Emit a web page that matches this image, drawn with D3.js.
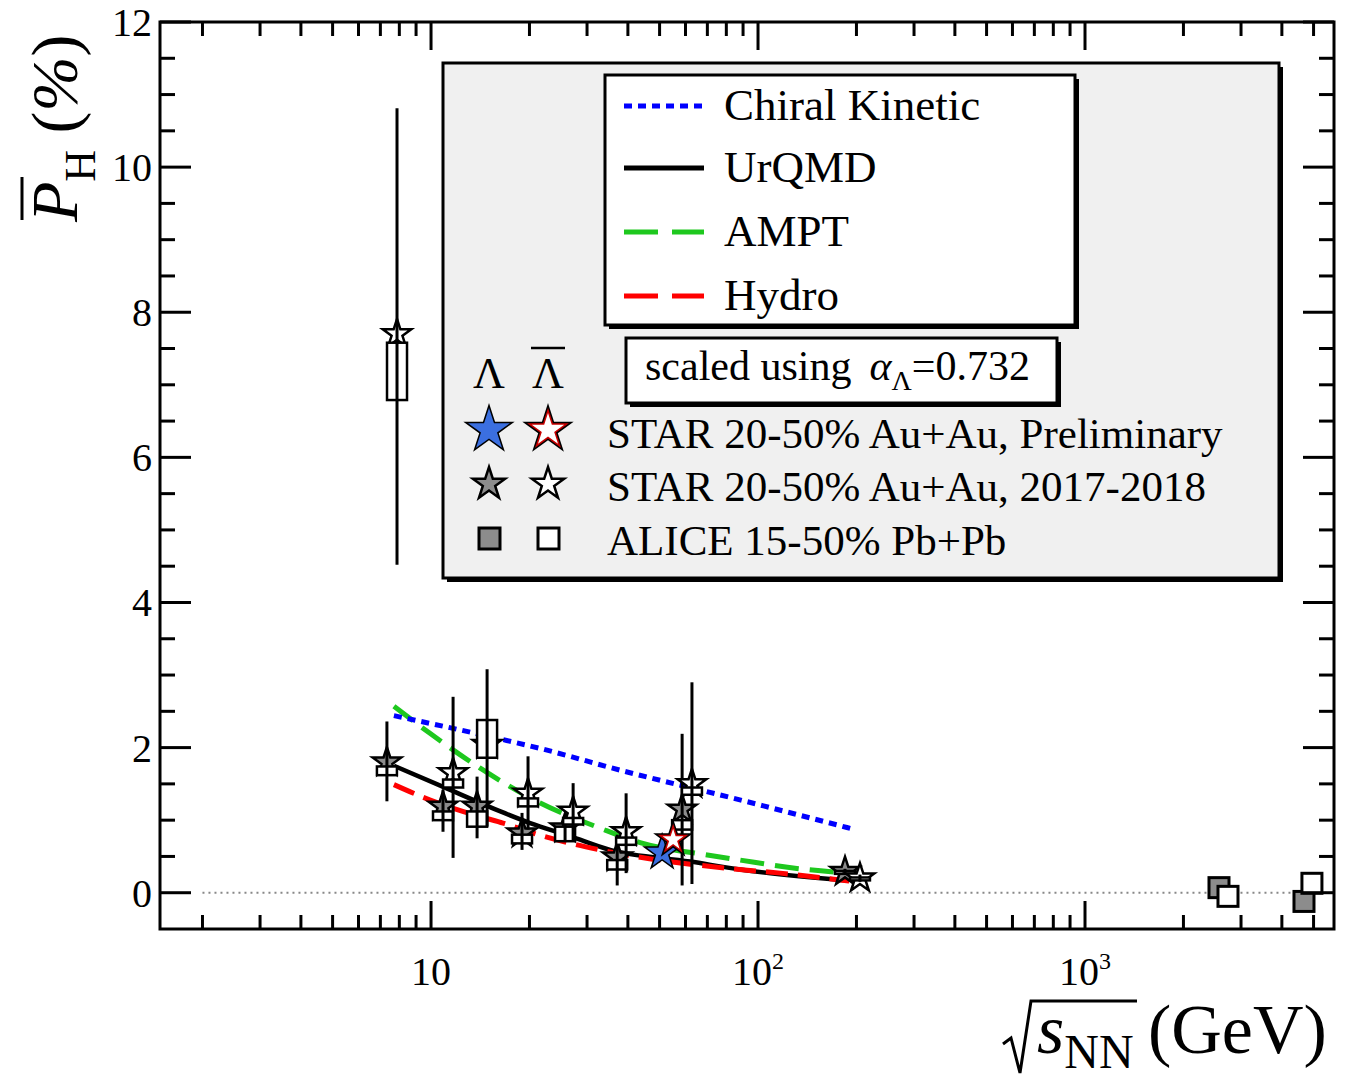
<!DOCTYPE html>
<html>
<head>
<meta charset="utf-8">
<script src="https://cdn.jsdelivr.net/npm/d3@7"></script>
<style>
	body { margin: 0; background: #fff; }
	text { font-family: "Liberation Serif", "Times New Roman", serif; fill: #000; }
</style>
</head>
<body>
<div id="chart"></div>
<script>
// ---- data ----
// STAR 2017-2018, Lambda (filled grey stars)
const lamE = [7.33, 10.88, 13.83, 18.98, 25.7, 37.1, 58.6, 184.5]
const lamP = [1.80, 1.19, 1.19, 0.82, 0.89, 0.49, 1.15, 0.29]
const lamStatLo = [1.26, 0.84, 0.75, 0.59, 0.72, 0.10, 0.10, 0.25]
const lamStatHi = [2.36, 1.42, 1.60, 1.10, 1.02, 0.80, 2.19, 0.33]
const lamSysLo = [1.62, 1.00, 0.91, 0.68, 0.71, 0.32, 0.87, 0.26]
const lamSysHi = [1.74, 1.12, 1.12, 0.80, 0.91, 0.45, 1.00, 0.30]

// STAR 2017-2018, anti-Lambda (open stars)
const alamE = [7.87, 11.68, 14.84, 19.8, 27.2, 39.5, 62.8, 205]
const alamP = [7.70, 1.65, 2.04, 1.37, 1.12, 0.84, 1.50, 0.20]
const alamStatLo = [4.52, 0.48, 0.91, 0.87, 0.71, 0.27, 0.12, 0.15]
const alamStatHi = [10.81, 2.70, 3.08, 1.88, 1.51, 1.37, 2.90, 0.25]
const alamSysLo = [6.79, 1.45, 1.86, 1.19, 0.94, 0.66, 1.35, 0.17]
const alamSysHi = [7.58, 1.56, 2.38, 1.30, 1.03, 0.76, 1.45, 0.21]

// STAR preliminary (54.4 GeV)
const prelimE = [50.9, 55.0]
const prelimP = [0.55, 0.73]
const prelimType = ['lam', 'alam']

// ALICE
const aliceLamE = [2569, 4674]
const aliceLamP = [0.07, -0.12]
const aliceAlamE = [2737, 4943]
const aliceAlamP = [-0.05, 0.13]

// model curves
const chiralE = [7.7, 16.6, 21.5, 37.8, 88, 198]
const chiralP = [2.44, 2.11, 1.99, 1.69, 1.28, 0.87]
const urqmdE = [7.7, 11.4, 16.3, 20.1, 26.6, 35.3, 62, 88, 185]
const urqmdP = [1.75, 1.42, 1.12, 0.96, 0.78, 0.59, 0.43, 0.32, 0.17]
const amptE = [7.7, 9.9, 14.1, 21.5, 32.9, 43.6, 70, 88, 134, 190]
const amptP = [2.57, 2.20, 1.72, 1.24, 0.89, 0.69, 0.52, 0.45, 0.33, 0.27]
const hydroE = [7.7, 9.9, 14.1, 16.6, 22, 32.9, 88, 117, 190]
const hydroP = [1.49, 1.28, 1.05, 0.96, 0.78, 0.59, 0.32, 0.27, 0.16]

const yTicks = [0, 2, 4, 6, 8, 10, 12]
const xMajor = [10, 100, 1000]
const xLabels = [['10', ''], ['10', '2'], ['10', '3']]

const width = 1345
const height = 1078
const plot = { left: 160, right: 1334, top: 22, bottom: 929 }

const svg = d3.select('#chart').append('svg')
	.attr('width', width)
	.attr('height', height)

const x = d3.scaleLog().domain([1.483, 5774]).range([plot.left, plot.right])
const y = d3.scaleLinear().domain([-0.5, 12]).range([plot.bottom, plot.top])

// dotted zero line
svg.append('line')
	.attr('x1', x(2)).attr('x2', plot.right)
	.attr('y1', y(0)).attr('y2', y(0))
	.attr('stroke', '#888').attr('stroke-width', 2)
	.attr('stroke-dasharray', '2,4')

// ---- model curves ----
const line = d3.line()
	.x(d => x(d[0]))
	.y(d => y(d[1]))
	.curve(d3.curveMonotoneX)

const models = [
	{ E: amptE, P: amptP, color: '#1ec81e', dash: '24,11', w: 5 },
	{ E: urqmdE, P: urqmdP, color: '#000', dash: null, w: 4.5 },
	{ E: hydroE, P: hydroP, color: '#f00', dash: '22,10', w: 5 },
	{ E: chiralE, P: chiralP, color: '#00f', dash: '8,6', w: 5 }
]
models.forEach(m => {
	svg.append('path')
		.attr('d', line(d3.zip(m.E, m.P)))
		.attr('fill', 'none')
		.attr('stroke', m.color)
		.attr('stroke-width', m.w)
		.attr('stroke-dasharray', m.dash)
})

// ---- data points ----
const star = r => d3.symbol().type(d3.symbolStar).size(r * r / 0.8908130915292852)()

function drawSeries(E, P, lo, hi, sLo, sHi, fill) {
	const g = svg.append('g')
	const pts = E.map((e, i) => ({ e, p: P[i], lo: lo[i], hi: hi[i], sLo: sLo[i], sHi: sHi[i] }))
	g.selectAll('path.star').data(pts).enter().append('path')
		.attr('class', 'star')
		.attr('d', star(15))
		.attr('transform', d => `translate(${x(d.e)},${y(d.p)})`)
		.attr('fill', fill)
		.attr('stroke', '#000')
		.attr('stroke-width', 2.5)
	g.selectAll('rect').data(pts).enter().append('rect')
		.attr('x', d => x(d.e) - 10)
		.attr('y', d => y(d.sHi))
		.attr('width', 20)
		.attr('height', d => y(d.sLo) - y(d.sHi))
		.attr('fill', '#fff')
		.attr('stroke', '#000')
		.attr('stroke-width', 2.5)
	g.selectAll('line').data(pts).enter().append('line')
		.attr('x1', d => x(d.e)).attr('x2', d => x(d.e))
		.attr('y1', d => y(d.hi)).attr('y2', d => y(d.lo))
		.attr('stroke', '#000')
		.attr('stroke-width', 3)
}
drawSeries(lamE, lamP, lamStatLo, lamStatHi, lamSysLo, lamSysHi, '#8c8c8c')
drawSeries(alamE, alamP, alamStatLo, alamStatHi, alamSysLo, alamSysHi, '#fff')

// preliminary big stars
function bigStar(g, type, r) {
	g.append('path').attr('d', star(r)).attr('fill', '#000')
	if (type == 'lam') {
		g.append('path').attr('d', star(r - 5)).attr('fill', '#3b6fe0')
	} else {
		g.append('path').attr('d', star(r - 5)).attr('fill', '#c80000')
		g.append('path').attr('d', star(r - 10)).attr('fill', '#fff')
	}
}
prelimE.forEach((e, i) => {
	const g = svg.append('g').attr('transform', `translate(${x(e)},${y(prelimP[i])})`)
	bigStar(g, prelimType[i], 21)
})

// ALICE squares
function squares(E, P, fill) {
	svg.append('g').selectAll('rect').data(d3.zip(E, P)).enter().append('rect')
		.attr('x', d => x(d[0]) - 10)
		.attr('y', d => y(d[1]) - 10)
		.attr('width', 20).attr('height', 20)
		.attr('fill', fill)
		.attr('stroke', '#000')
		.attr('stroke-width', 3)
}
squares(aliceLamE, aliceLamP, '#8c8c8c')
squares(aliceAlamE, aliceAlamP, '#fff')

// ---- frame and ticks ----
svg.append('rect')
	.attr('x', plot.left).attr('y', plot.top)
	.attr('width', plot.right - plot.left).attr('height', plot.bottom - plot.top)
	.attr('fill', 'none').attr('stroke', '#000').attr('stroke-width', 3)

const yMinor = d3.range(0, 12.01, 0.5)
const ticks = svg.append('g').attr('stroke', '#000').attr('stroke-width', 3)
yMinor.forEach(v => {
	const len = v % 2 == 0 ? 31 : 15
	ticks.append('line').attr('x1', plot.left).attr('x2', plot.left + len).attr('y1', y(v)).attr('y2', y(v))
	ticks.append('line').attr('x1', plot.right).attr('x2', plot.right - len).attr('y1', y(v)).attr('y2', y(v))
})
const xTicks = []
;[1, 10, 100, 1000].forEach(d => d3.range(1, 10).forEach(k => {
	const v = d * k
	if (v >= 2 && v <= 5000) xTicks.push(v)
}))
xTicks.forEach(v => {
	const len = xMajor.includes(v) ? 28 : 14
	ticks.append('line').attr('x1', x(v)).attr('x2', x(v)).attr('y1', plot.bottom).attr('y2', plot.bottom - len)
	ticks.append('line').attr('x1', x(v)).attr('x2', x(v)).attr('y1', plot.top).attr('y2', plot.top + len)
})

// tick labels
svg.append('g').selectAll('text').data(yTicks).enter().append('text')
	.attr('x', 152)
	.attr('y', d => y(d))
	.attr('dy', '0.35em')
	.attr('text-anchor', 'end')
	.style('font-size', '40px')
	.text(d => d)

xMajor.forEach((v, i) => {
	const t = svg.append('text')
		.attr('x', x(v))
		.attr('y', 985)
		.attr('text-anchor', 'middle')
		.style('font-size', '40px')
	t.append('tspan').text(xLabels[i][0])
	if (xLabels[i][1]) {
		t.append('tspan').text(xLabels[i][1]).style('font-size', '24px').attr('dy', -16)
	}
})

// axis titles
const yt = svg.append('g').attr('transform', 'translate(77,222) rotate(-90)')
const ytt = yt.append('text').style('font-size', '66px')
ytt.append('tspan').text('P').style('font-style', 'italic')
ytt.append('tspan').text('H').style('font-size', '44px').attr('dy', 18)
ytt.append('tspan').text(' (').attr('dy', -18)
ytt.append('tspan').text('%').style('font-style', 'italic')
ytt.append('tspan').text(')')
yt.append('line').attr('x1', 2).attr('x2', 45).attr('y1', -55).attr('y2', -55)
	.attr('stroke', '#000').attr('stroke-width', 3)

const xt = svg.append('text').attr('x', 1037).attr('y', 1053).style('font-size', '70px')
xt.append('tspan').text('s').style('font-style', 'italic')
xt.append('tspan').text('NN').style('font-size', '48px').attr('dy', 15)
xt.append('tspan').text('(GeV)').attr('x', 1148).attr('dy', -15)
svg.append('path')
	.attr('d', 'M1003,1044 L1011,1038 L1020,1073 L1031,1001 L1137,1001')
	.attr('fill', 'none').attr('stroke', '#000').attr('stroke-width', 3)

// ---- legend ----
const leg = svg.append('g')
function pave(x0, y0, w, h, fill) {
	leg.append('rect').attr('x', x0 + 4).attr('y', y0 + 4).attr('width', w).attr('height', h).attr('fill', '#000')
	leg.append('rect').attr('x', x0).attr('y', y0).attr('width', w).attr('height', h)
		.attr('fill', fill).attr('stroke', '#000').attr('stroke-width', 3)
}
pave(443, 63, 836, 515, '#f0f0f0')
pave(605, 75, 470, 250, '#fff')
pave(626, 338, 431, 65, '#fff')

const modelNames = ['Chiral Kinetic', 'UrQMD', 'AMPT', 'Hydro']
const legModels = [models[3], models[1], models[0], models[2]]
const legDash = ['8,6', null, '34,14', '34,14']
const legY = [106, 168, 232, 296]
modelNames.forEach((name, i) => {
	leg.append('line')
		.attr('x1', 624).attr('x2', 704)
		.attr('y1', legY[i]).attr('y2', legY[i])
		.attr('stroke', legModels[i].color).attr('stroke-width', 5)
		.attr('stroke-dasharray', legDash[i])
	leg.append('text')
		.attr('x', 724).attr('y', legY[i] + 14)
		.style('font-size', '45px')
		.text(name)
})

const sc = leg.append('text').attr('x', 645).attr('y', 380).style('font-size', '42px')
sc.append('tspan').text('scaled using')
sc.append('tspan').text('α').style('font-style', 'italic').attr('dx', 18)
sc.append('tspan').text('Λ').style('font-size', '28px').attr('dy', 10)
sc.append('tspan').text('=0.732').attr('dy', -10)

leg.append('text').attr('x', 489).attr('y', 388).attr('text-anchor', 'middle').style('font-size', '44px').text('Λ')
leg.append('text').attr('x', 548).attr('y', 388).attr('text-anchor', 'middle').style('font-size', '44px').text('Λ')
leg.append('line').attr('x1', 531).attr('x2', 565).attr('y1', 348).attr('y2', 348)
	.attr('stroke', '#000').attr('stroke-width', 2.5)

const rowNames = ['STAR 20-50% Au+Au, Preliminary', 'STAR 20-50% Au+Au, 2017-2018', 'ALICE 15-50% Pb+Pb']
const rowY = [434, 487, 541]
rowNames.forEach((name, i) => {
	leg.append('text').attr('x', 607).attr('y', rowY[i] + 14).style('font-size', '43px').text(name)
})
bigStar(leg.append('g').attr('transform', `translate(489,${rowY[0] - 4})`), 'lam', 27)
bigStar(leg.append('g').attr('transform', `translate(548,${rowY[0] - 4})`), 'alam', 27)
leg.append('path').attr('d', star(17)).attr('transform', `translate(489,${rowY[1] - 3})`)
	.attr('fill', '#8c8c8c').attr('stroke', '#000').attr('stroke-width', 2.5)
leg.append('path').attr('d', star(17)).attr('transform', `translate(548,${rowY[1] - 3})`)
	.attr('fill', '#fff').attr('stroke', '#000').attr('stroke-width', 2.5)
leg.append('rect').attr('x', 479).attr('y', rowY[2] - 13).attr('width', 21).attr('height', 21)
	.attr('fill', '#8c8c8c').attr('stroke', '#000').attr('stroke-width', 3)
leg.append('rect').attr('x', 538).attr('y', rowY[2] - 13).attr('width', 21).attr('height', 21)
	.attr('fill', '#fff').attr('stroke', '#000').attr('stroke-width', 3)
</script>
</body>
</html>
